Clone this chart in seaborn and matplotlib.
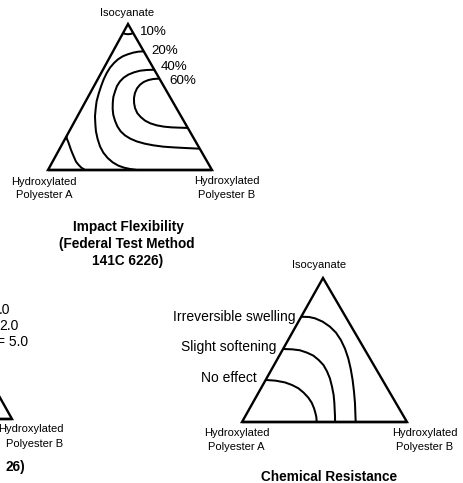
import matplotlib
matplotlib.use("Agg")
import matplotlib.pyplot as plt
import numpy as np
import seaborn as sns

sns.set_theme(style="white")
plt.rcParams["font.family"] = ["Liberation Sans", "DejaVu Sans"]

# ---------------------------------------------------------------
# Ternary data: each contour is a list of compositions given as
# fraction of isocyanate and fraction of hydroxylated polyester B
# (polyester A makes up the rest).
# ---------------------------------------------------------------

# Impact flexibility (Federal Test Method 141C 6226)
impact_labels = ["10%", "20%", "40%", "60%"]

impact10_apex_iso = [0.938, 0.932, 0.930, 0.932, 0.938]
impact10_apex_pb = [0.000, 0.016, 0.034, 0.050, 0.062]

impact10_corner_iso = [0.231, 0.2123, 0.192, 0.1644, 0.139, 0.1096, 0.082,
                       0.0571, 0.037, 0.016, 0.000]
impact10_corner_pb = [0.000, 0.0122, 0.030, 0.0518, 0.072, 0.097, 0.121,
                      0.1429, 0.167, 0.1955, 0.226]

impact20_iso = [0.813, 0.8105, 0.804, 0.7922, 0.779, 0.758, 0.733, 0.7009,
                0.664, 0.621, 0.573, 0.5228, 0.470, 0.4201, 0.368, 0.3151,
                0.265, 0.2123, 0.162, 0.1187, 0.082, 0.0525, 0.030, 0.016,
                0.007, 0.000]
impact20_pb = [0.187, 0.1555, 0.128, 0.0994, 0.076, 0.0571, 0.045, 0.0362,
               0.034, 0.0366, 0.044, 0.0539, 0.067, 0.0858, 0.107, 0.135,
               0.163, 0.199, 0.238, 0.2795, 0.324, 0.3687, 0.414, 0.4557,
               0.497, 0.541]

impact40_iso = [0.687, 0.6849, 0.680, 0.6689, 0.653, 0.6324, 0.607, 0.5753,
                0.539, 0.500, 0.459, 0.4178, 0.379, 0.3379, 0.299, 0.2648,
                0.237, 0.2146, 0.196, 0.1804, 0.169, 0.1598, 0.155, 0.1507,
                0.146]
impact40_pb = [0.313, 0.2675, 0.229, 0.198, 0.171, 0.1529, 0.143, 0.140,
               0.146, 0.1545, 0.171, 0.1905, 0.213, 0.2437, 0.277, 0.3138,
               0.354, 0.3974, 0.445, 0.5014, 0.560, 0.6252, 0.688, 0.7618,
               0.854]

impact60_iso = [0.626, 0.6233, 0.616, 0.6027, 0.584, 0.5594, 0.527, 0.4932,
                0.459, 0.4247, 0.390, 0.363, 0.338, 0.3196, 0.306, 0.2968,
                0.292, 0.290, 0.288]
impact60_pb = [0.374, 0.3382, 0.311, 0.2892, 0.276, 0.270, 0.273, 0.2837,
               0.301, 0.3234, 0.354, 0.388, 0.427, 0.4681, 0.513, 0.5626,
               0.612, 0.6593, 0.712]

# Chemical resistance
chem_labels = ["Irreversible swelling", "Slight softening", "No effect"]

chem_none_iso = [0.292, 0.287, 0.275, 0.2569, 0.234, 0.2037, 0.169, 0.1343,
                 0.095, 0.0648, 0.037, 0.000]
chem_none_pb = [0.000, 0.0632, 0.125, 0.177, 0.227, 0.2737, 0.319, 0.3564,
                0.390, 0.4125, 0.432, 0.453]

chem_soft_iso = [0.507, 0.5046, 0.498, 0.4815, 0.461, 0.4306, 0.396, 0.3519,
                 0.303, 0.2454, 0.188, 0.1343, 0.083, 0.0417, 0.000]
chem_soft_pb = [0.000, 0.0574, 0.107, 0.1576, 0.206, 0.2533, 0.299, 0.3424,
                0.384, 0.425, 0.463, 0.4937, 0.521, 0.5432, 0.564]

chem_swell_iso = [0.731, 0.7292, 0.720, 0.6968, 0.662, 0.6204, 0.569, 0.5093,
                  0.442, 0.3704, 0.292, 0.2106, 0.130, 0.0648, 0.000]
chem_swell_pb = [0.000, 0.0481, 0.089, 0.1469, 0.208, 0.265, 0.320, 0.3741,
                 0.427, 0.4768, 0.527, 0.5754, 0.621, 0.655, 0.689]

# Corners of the composition triangle (iso, polyester B)
corner_iso = [0.0, 0.0, 1.0, 0.0, 0.0]
corner_pb = [0.0, 1.0, 0.0, 0.0, 1.0]

# Legend fragment of the neighbouring diagram
side_values = [".0", "2.0", "= 5.0"]

# ---------------------------------------------------------------
# Layout (figure drawn in pixel units, y downwards)
# vertices: (polyester A, polyester B, isocyanate)
# ---------------------------------------------------------------
impact_tri = ((48, 170), (212, 170), (128, 24))
chem_tri = ((242, 422), (407, 422), (323, 278))
side_tri = ((-152, 419), (12, 419), (-70, 273))


def to_xy(tri, iso, pb):
    iso = np.asarray(iso, float)
    pb = np.asarray(pb, float)
    pa = 1.0 - iso - pb
    (ax_, ay_), (bx_, by_), (ix_, iy_) = tri
    x = pa * ax_ + pb * bx_ + iso * ix_
    y = pa * ay_ + pb * by_ + iso * iy_
    return x, y


fig = plt.figure(figsize=(4.64, 4.83), dpi=100)
ax = fig.add_axes([0, 0, 1, 1])
ax.set_xlim(0, 464)
ax.set_ylim(483, 0)
ax.axis("off")

EDGE_LW = 1.7
CURVE_LW = 1.45


def draw_line(tri, iso, pb, lw, join):
    x, y = to_xy(tri, iso, pb)
    sns.lineplot(x=x, y=y, sort=False, estimator=None, color="black",
                 lw=lw, ax=ax, solid_joinstyle=join,
                 solid_capstyle="butt")


# Triangles
for tri in (impact_tri, chem_tri, side_tri):
    draw_line(tri, corner_iso, corner_pb, EDGE_LW, "miter")

# Impact flexibility contours
for iso, pb in [(impact10_apex_iso, impact10_apex_pb),
                (impact10_corner_iso, impact10_corner_pb),
                (impact20_iso, impact20_pb),
                (impact40_iso, impact40_pb),
                (impact60_iso, impact60_pb)]:
    draw_line(impact_tri, iso, pb, CURVE_LW, "round")

# Chemical resistance contours
for iso, pb in [(chem_none_iso, chem_none_pb),
                (chem_soft_iso, chem_soft_pb),
                (chem_swell_iso, chem_swell_pb)]:
    draw_line(chem_tri, iso, pb, CURVE_LW, "round")

# ---------------------------------------------------------------
# Text
# ---------------------------------------------------------------
VS = 8.0     # vertex labels
LS = 9.6     # contour labels
TS = 9.8     # bold captions


def txt(x, y, s, size, ha="center", weight="normal"):
    ax.text(x, y, s, fontsize=size, ha=ha, va="center", color="black",
            fontweight=weight)


# Impact flexibility diagram
txt(127.5, 13, "Isocyanate", VS)
txt(44, 182, "Hydroxylated", VS)
txt(44, 194.5, "Polyester A", VS)
txt(226.5, 181.5, "Hydroxylated", VS)
txt(227, 194.5, "Polyester B", VS)
for (px, py), lab in zip([(140, 32), (151.7, 51.3), (160.7, 67), (169.3, 81.3)],
                         impact_labels):
    txt(px, py, lab, LS, ha="left")
txt(128, 227, "Impact Flexibility", TS, weight="bold")
txt(127, 244, "(Federal Test Method", TS, weight="bold")
txt(127.5, 261, "141C 6226)", TS, weight="bold")

# Chemical resistance diagram
txt(319.5, 265, "Isocyanate", VS)
txt(236.5, 433, "Hydroxylated", VS)
txt(236.5, 447, "Polyester A", VS)
txt(424.5, 433, "Hydroxylated", VS)
txt(425, 447, "Polyester B", VS)
for (px, py), lab in zip([(296, 316.5), (276, 347), (256.5, 377.5)],
                         chem_labels):
    txt(px, py, lab, 10, ha="right")
txt(329.5, 477, "Chemical Resistance", TS, weight="bold")

# Neighbouring diagram (partly outside the page)
for (px, py), lab in zip([(10.7, 309.5), (18.3, 325.5), (28.3, 342.5)],
                         side_values):
    txt(px, py, lab, 10, ha="right")
txt(31, 428.5, "Hydroxylated", VS)
txt(35, 444, "Polyester B", VS)
txt(25, 467, "26)", TS, ha="right", weight="bold")

fig.savefig("out.png", dpi=100)
